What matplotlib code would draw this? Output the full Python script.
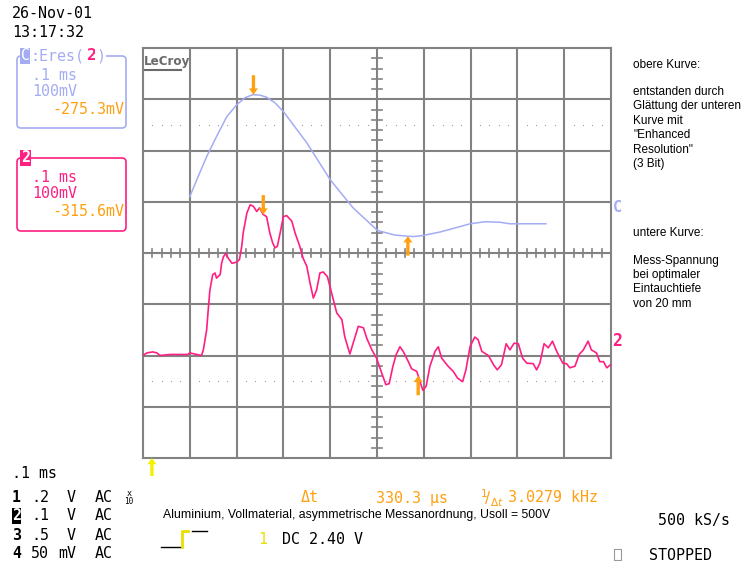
import numpy as np
import matplotlib.pyplot as plt
from matplotlib.patches import FancyBboxPatch

# screen data: time in µs (0.1 ms/div), value in mV on screen (100 mV/div, 0 = centre line)
upper_t = [100, 115, 136, 157, 179, 200, 218, 235, 250, 264, 282, 300, 350, 400, 449, 501,
           538, 577, 598, 635, 667, 699, 731, 763, 784, 861]
upper_v = [110, 143, 188, 227, 266, 289, 303, 309, 308, 304, 293, 276, 215, 143, 88, 44,
           35, 32, 34, 41, 49, 57, 61, 60, 57, 57]

lower_t = [0, 8, 21, 30, 36, 58, 96, 100, 125, 129, 136, 140, 143, 149, 154, 157, 165, 168,
           172, 177, 182, 190, 200, 206, 211, 214, 222, 229, 236, 243, 249, 257, 264, 271,
           277, 282, 287, 293, 300, 307, 318, 325, 335, 342, 350, 357, 364, 371, 378, 385,
           394, 403, 414, 425, 431, 442, 449, 460, 471, 478, 489, 499, 510, 519, 526, 534,
           541, 549, 556, 567, 574, 585, 592, 598, 605, 613, 624, 631, 638, 652, 663, 672,
           683, 690, 699, 709, 716, 724, 738, 749, 757, 766, 776, 784, 793, 802, 811, 820,
           834, 841, 848, 857, 866, 875, 884, 897, 905, 912, 923, 932, 941, 951, 958, 969,
           976, 984, 991, 999]
lower_v = [-200, -195, -193, -195, -200, -198, -198, -195, -200, -189, -150, -104, -72, -42,
           -39, -49, -42, -20, -7, -1, -10, -20, -18, -13, 13, 39, 78, 94, 91, 81, 88, 75, 71,
           39, 20, 10, 13, 39, 71, 73, 62, 39, 13, -10, -26, -59, -88, -72, -39, -37, -46,
           -78, -117, -130, -163, -197, -176, -143, -146, -166, -189, -205, -234, -257, -255,
           -221, -198, -183, -192, -212, -226, -231, -251, -268, -260, -221, -192, -183, -205,
           -221, -231, -244, -251, -228, -182, -164, -169, -192, -200, -218, -228, -218, -177,
           -189, -176, -177, -205, -215, -216, -228, -215, -177, -185, -172, -192, -215, -216,
           -224, -221, -198, -189, -172, -189, -195, -212, -212, -224, -218]

cursor_upper = [236, 566]
cursor_lower = [257, 588]
trigger_t = 19

lavender = "#a4acf4"
pink = "#ff1f82"
orange = "#ffa010"
gray = "#828282"
mono = "DejaVu Sans Mono"

fig = plt.figure(figsize=(7.49, 5.65), dpi=100)

# overlay in pixel coordinates for the scope text
bg = fig.add_axes([0, 0, 1, 1])
bg.set_xlim(0, 749)
bg.set_ylim(565, 0)
bg.axis("off")

ax = fig.add_axes([143 / 749, 107 / 565, 468 / 749, 410 / 565])
ax.set_facecolor("none")
ax.set_xlim(0, 1000)
ax.set_ylim(-400, 400)
ax.set_xticks([])
ax.set_yticks([])
for s in ax.spines.values():
    s.set_color(gray)
    s.set_linewidth(1.5)

for x in range(100, 1000, 100):
    ax.axvline(x, color=gray, lw=1.5, zorder=1)
for y in range(-300, 400, 100):
    ax.axhline(y, color=gray, lw=1.5, zorder=1)

# minor ticks on the centre cross
for y in range(-380, 400, 20):
    if y % 100:
        ax.plot([489, 511], [y, y], color=gray, lw=1.2, zorder=1)
for x in range(20, 1000, 20):
    if x % 100:
        ax.plot([x, x], [-8, 8], color=gray, lw=1.2, zorder=1)
# dotted lines at +-2.5 div
dots = [x for x in range(20, 1000, 20) if x % 100]
for y in (250, -250):
    ax.plot(dots, [y] * len(dots), ls="none", marker="s", ms=0.8, mew=0,
            color="#a0a0a0", zorder=1)

ax.plot(upper_t, upper_v, color=lavender, lw=1.1, zorder=3)
ax.plot(lower_t, lower_v, color=pink, lw=1.2, zorder=3)

# cursors
arrow = dict(width=2.4, headwidth=6.5, headlength=4.5, color=orange, lw=0)
for i, t in enumerate(cursor_upper):
    v = np.interp(t, upper_t, upper_v)
    d = 14 if i == 0 else -14
    ax.annotate("", xy=(t, v), xytext=(0, d), textcoords="offset points",
                arrowprops=arrow, zorder=4)
for i, t in enumerate(cursor_lower):
    v = np.interp(t, lower_t, lower_v)
    d = 14 if i == 0 else -14
    ax.annotate("", xy=(t, v), xytext=(0, d), textcoords="offset points",
                arrowprops=arrow, zorder=4)
ax.annotate("", xy=(trigger_t, 0), xycoords=("data", "axes fraction"),
            xytext=(0, -13), textcoords="offset points",
            arrowprops=dict(width=2.4, headwidth=6.5, headlength=4.5, color="#f4f000", lw=0),
            annotation_clip=False)

# LeCroy logo
bg.text(144, 61, "LeCroy", fontsize=9.5, fontweight="bold", color="#6a6a6a",
        family="DejaVu Sans", va="center", ha="left", fontstretch="condensed")
bg.plot([144, 181], [69.5, 69.5], color="#6a6a6a", lw=1.5)

# trace markers on the right edge
bg.text(613, 207, "C", fontsize=11, color=lavender, family=mono, fontweight="bold", va="center")
bg.text(612, 341, "2", fontsize=12, color=pink, family=mono, fontweight="bold", va="center")

fs = 10.8
# date / time
bg.text(12, 14, "26-Nov-01", fontsize=fs, family=mono, va="center")
bg.text(12, 32.5, "13:17:32", fontsize=fs, family=mono, va="center")

# box C
bg.add_patch(FancyBboxPatch((17, 56), 109, 72, boxstyle="round,pad=0,rounding_size=4",
                            fc="none", ec=lavender, lw=1.2))
bg.text(30, 56, ":Eres(", fontsize=fs, family=mono, color=lavender, va="center",
        bbox=dict(boxstyle="square,pad=0.05", fc="white", ec="none"))
bg.text(20.5, 56, "C", fontsize=fs, family=mono, color="white", va="center",
        bbox=dict(boxstyle="square,pad=0.05", fc=lavender, ec="none"))
bg.text(86, 56, "2", fontsize=fs + 1, family=mono, color=pink, fontweight="bold", va="center",
        bbox=dict(boxstyle="square,pad=0.05", fc="white", ec="none"))
bg.text(96, 56, ")", fontsize=fs, family=mono, color=lavender, va="center",
        bbox=dict(boxstyle="square,pad=0.05", fc="white", ec="none"))
bg.text(32, 75, ".1 ms", fontsize=fs, family=mono, color=lavender, va="center")
bg.text(32, 91, "100mV", fontsize=fs, family=mono, color=lavender, va="center")
bg.text(124, 110, "-275.3mV", fontsize=fs, family=mono, color=orange, va="center", ha="right")

# box 2
bg.add_patch(FancyBboxPatch((17, 158), 109, 73, boxstyle="round,pad=0,rounding_size=4",
                            fc="none", ec=pink, lw=1.2))
bg.text(21, 158, "2", fontsize=fs, family=mono, color="white", fontweight="bold", va="center",
        bbox=dict(boxstyle="square,pad=0.05", fc=pink, ec="none"))
bg.text(32, 177, ".1 ms", fontsize=fs, family=mono, color=pink, va="center")
bg.text(32, 193, "100mV", fontsize=fs, family=mono, color=pink, va="center")
bg.text(124, 212, "-315.6mV", fontsize=fs, family=mono, color=orange, va="center", ha="right")

# bottom status area
bg.text(12, 473, ".1 ms", fontsize=fs, family=mono, va="center")
rows = [("1", ".2", "V", 498), ("2", ".1", "V", 516), ("3", ".5", "V", 535), ("4", "50", "mV", 553)]
for ch, val, unit, y in rows:
    if ch == "2":
        bg.text(12, y, ch, fontsize=fs, family=mono, fontweight="bold", color="white", va="center",
                bbox=dict(boxstyle="square,pad=0.02", fc="black", ec="none"))
    else:
        bg.text(12, y, ch, fontsize=fs, family=mono, fontweight="bold", va="center")
    bg.text(31, y, val, fontsize=fs, family=mono, va="center")
    bg.text(67 if unit == "V" else 58, y, unit, fontsize=fs, family=mono, va="center")
    bg.text(95, y, "AC", fontsize=fs, family=mono, va="center")
bg.text(129, 494, "x", fontsize=6, family=mono, va="center", ha="center")
bg.text(129, 502, "10", fontsize=5.5, family=mono, va="center", ha="center")

bg.text(301, 498, "\u0394t", fontsize=fs, family=mono, color=orange, va="center")
bg.text(376, 498, "330.3 \u00b5s", fontsize=fs, family=mono, color=orange, va="center")
bg.text(480, 498, r"$^{1}\!/_{\Delta t}$", fontsize=fs, color=orange, va="center")
bg.text(508, 498, "3.0279 kHz", fontsize=fs, family=mono, color=orange, va="center")

bg.text(163, 515, "Aluminium, Vollmaterial, asymmetrische Messanordnung, Usoll = 500V",
        fontsize=8.8, family="Liberation Sans", va="center")

bg.plot([161, 181], [547, 547], color="black", lw=1)
bg.plot([182, 182, 188], [547, 531, 531], color="#e8e000", lw=2)
bg.plot([192, 207], [531, 531], color="black", lw=1)
bg.text(258, 540, "1", fontsize=fs, family=mono, color="#e8e000", va="center")
bg.text(282, 540, "DC 2.40 V", fontsize=fs, family=mono, va="center")

bg.text(658, 520, "500 kS/s", fontsize=fs, family=mono, va="center")
bg.add_patch(plt.Rectangle((614, 549), 7, 11, fc="none", ec="#999999", lw=0.8))
bg.text(649, 556, "STOPPED", fontsize=fs, family=mono, va="center")

# notes on the right
notes = [("obere Kurve:", 65), ("entstanden durch", 92), ("Gl\u00e4ttung der unteren", 106.5),
         ("Kurve mit", 121), ("\"Enhanced", 135.5), ("Resolution\"", 150), ("(3 Bit)", 164.5),
         ("untere Kurve:", 232.5), ("Mess-Spannung", 261), ("bei optimaler", 275),
         ("Eintauchtiefe", 289.5), ("von 20 mm", 304)]
for txt, y in notes:
    bg.text(633, y, txt, fontsize=8.5, family="Liberation Sans", va="center")

fig.savefig("out.png", dpi=100)
